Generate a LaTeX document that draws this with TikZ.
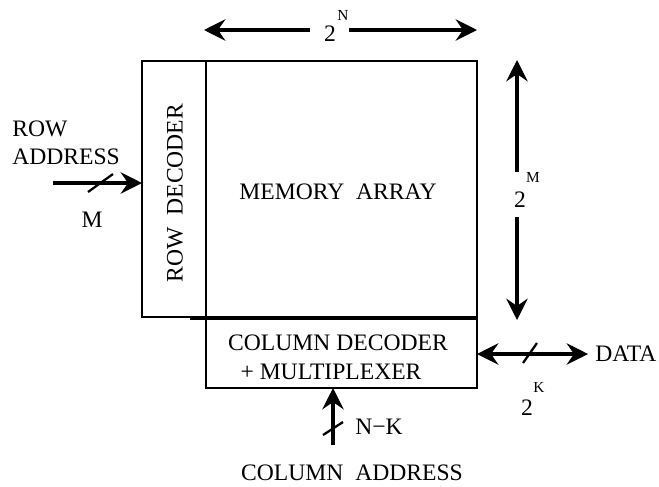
\documentclass[tikz,border=0pt]{standalone}
\usepackage{fontspec}
\setmainfont{Liberation Serif}
\usetikzlibrary{arrows.meta,calc}
\begin{document}
\begin{tikzpicture}[x=0.75pt,y=-0.75pt,
  box/.style={draw,line width=2pt,inner sep=0pt,outer sep=0pt},
  txt/.style={inner sep=0pt,font=\fontsize{17.7pt}{22pt}\selectfont},
  sup/.style={inner sep=0pt,font=\fontsize{11.5pt}{13pt}\selectfont},
  arr/.style={line width=2.4pt,-{Stealth[length=16pt,width=16pt,inset=5.5pt]}},
  arrb/.style={line width=2.4pt,{Stealth[length=16pt,width=16pt,inset=5.5pt]}-{Stealth[length=16pt,width=16pt,inset=5.5pt]}},
  slash/.style={line width=1.7pt}]
\useasboundingbox (0,0) rectangle (659,486);

% boxes
\node[box,minimum width=48pt,minimum height=192pt] (rd) at (174,189) {};
\node[txt,rotate=90] (rdt) at (175,193) {ROW\ \ DECODER};
\node[box,minimum width=203.25pt,minimum height=192pt] (ma) at (341.5,189) {};
\node[txt] (mat) at (338,192) {MEMORY\ \ ARRAY};
\node[box,minimum width=203.25pt,minimum height=51.75pt] (cd) at (341.5,353.5) {};
\node[txt] (cdt1) at (338,343) {COLUMN DECODER};
\node[txt] (cdt2) at (331,372) {+ MULTIPLEXER};
\coordinate (stub) at (190,319);
\draw[line width=2pt] (stub) -- (cd.north west);

% top 2^N arrow
\coordinate (t1) at (204,30);
\coordinate (t2) at (477,30);
\coordinate (t1e) at (310,30);
\coordinate (t2s) at (349,30);
\node[txt] (tw) at (330,34) {2};
\node[sup] (tN) at (343,15) {N};
\draw[arr] (t1e) -- (t1);
\draw[arr] (t2s) -- (t2);

% right 2^M arrow
\coordinate (r1) at (517,60);
\coordinate (r1e) at (517,172);
\coordinate (r2s) at (517,217);
\coordinate (r2) at (517,320);
\node[txt] (rw) at (520,200) {2};
\node[sup] (rM) at (533,177) {M};
\draw[arr] (r1e) -- (r1);
\draw[arr] (r2s) -- (r2);

% row address
\node[txt,anchor=west] (row) at (12,129) {ROW};
\node[txt,anchor=west] (addr) at (12,157) {ADDRESS};
\coordinate (ra) at (53,183);
\draw[arr] (ra) -- (ra -| rd.west);
\draw[slash] (88,192) -- (113,174);
\node[txt] (mlab) at (92,220) {M};

% data
\node[txt,anchor=west] (data) at (595,354) {DATA};
\coordinate (dend) at (588,354);
\draw[arrb] (cd.east |- dend) -- (dend);
\draw[slash] (523,363) -- (537,343);
\node[txt] (kw) at (527,408) {2};
\node[sup] (kK) at (539,387) {K};

% column address
\coordinate (ca) at (333,445);
\draw[arr] (ca) -- (ca |- cd.south);
\draw[slash] (323,435) -- (343,422);
\node[txt,anchor=west] (nk) at (355,427) {N−K};
\node[txt] (caddr) at (352,473) {COLUMN\ \ ADDRESS};
\end{tikzpicture}
\end{document}
